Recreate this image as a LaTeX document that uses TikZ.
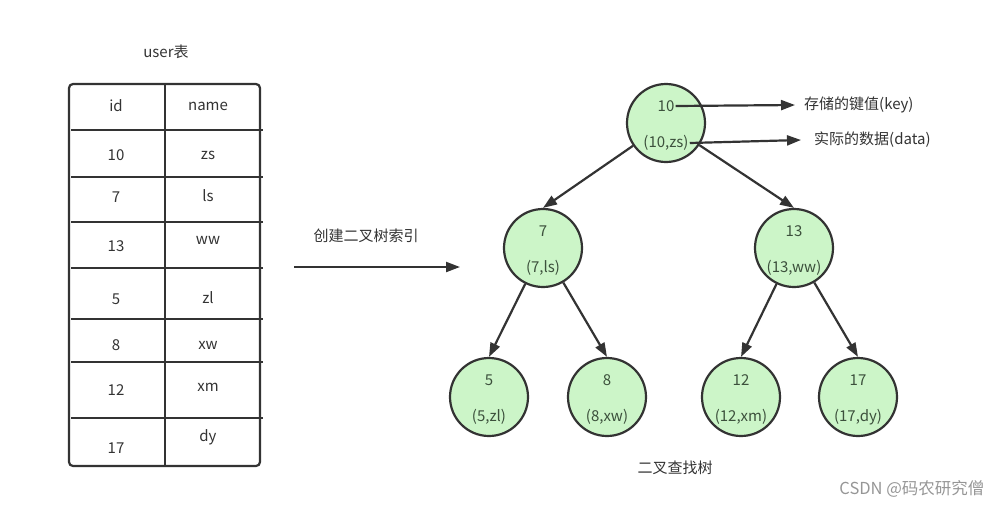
\documentclass[tikz,border=0pt]{standalone}
\usepackage{fontspec}
\setmainfont{Noto Sans CJK SC}
\usetikzlibrary{arrows.meta}
\usetikzlibrary{positioning}

\definecolor{leaf}{RGB}{204,245,200}
\definecolor{ink}{RGB}{51,51,51}
\definecolor{nodeink}{RGB}{60,80,60}
\definecolor{mark}{RGB}{150,150,150}

\begin{document}
\begin{tikzpicture}[x=1pt,y=-1pt,>={Triangle[length=14pt,width=10pt]}]
		\tikzset{treenode/.style = {shape=circle, draw=ink, line width=2.2pt, fill=leaf, minimum size=78pt, inner sep=0pt},
			keytext/.style = {text=nodeink, font=\fontsize{15}{17}\selectfont, inner sep=1pt},
			cell/.style = {text=ink, font=\fontsize{15}{17}\selectfont, inner sep=1pt},
			note/.style = {text=ink, font=\fontsize{15}{17}\selectfont, inner sep=1pt},
			link/.style = {->, draw=ink, line width=2.2pt}}
		\useasboundingbox (0,0) rectangle (1001,507);
		
		% user table
		\node[note] (TITLE) at (166,52) {user表};
		\draw[ink, line width=2.2pt, rounded corners=4pt] (69,84) rectangle (260,466);
		\draw[ink, line width=2.2pt] (165,84) -- (165,466);
		\foreach \y in {130,177,222,268,319,362,418}
			\draw[ink, line width=2.2pt] (71,\y) -- (263,\y);
		\foreach \i/\id/\nm/\yid/\ynm in {0/id/name/106/106, 1/10/zs/155/155, 2/7/ls/197/196,
			3/13/ww/246/240, 4/5/zl/299/298, 5/8/xw/345/345, 6/12/xm/390/387, 7/17/dy/448/437}
		{
			\node[cell] (ID\i) at (116,\yid) {\id};
			\node[cell] (NM\i) at (208,\ynm) {\nm};
		}
		
		% build arrow
		\coordinate (FROM) at (294,267);
		\coordinate (TO) at (460,267);
		\draw[link] (FROM) -- (TO);
		\node[note] (BUILD) at (366,236) {创建二叉树索引};
		
		% search tree
		\foreach \k/\v/\x/\y in {10/zs/666/123, 7/ls/543/248, 13/ww/794/248,
			5/zl/489/397, 8/xw/607/397, 12/xm/741/397, 17/dy/858/397}
		{
			\node[treenode] (N\k) at (\x,\y) {};
			\node[keytext] (K\k) at (\x,\y-17) {\k};
			\node[keytext] (D\k) at (\x,\y+20) {(\k,\v)};
		}
		\draw[link] (N10) -- (N7.north);
		\draw[link] (N10) -- (N13.north);
		\draw[link] (N7) -- (N5.north);
		\draw[link] (N7) -- (N8.north);
		\draw[link] (N13) -- (N12.north);
		\draw[link] (N13) -- (N17.north);
		\node[note] (TREE) at (675,468) {二叉查找树};
		
		% notes on the root
		\node[note, anchor=west] (KEY) at (803,105) {存储的键值(key)};
		\node[note, anchor=west] (DATA) at (813,140) {实际的数据(data)};
		\draw[link] (K10.east) -- ([xshift=-8pt]KEY.west);
		\draw[link] (D10.east) -- ([xshift=-12pt]DATA.west);
		
		\node[text=mark, font=\fontsize{16.5}{18}\selectfont, anchor=east] (CSDN) at (988,489) {CSDN @码农研究僧};
\end{tikzpicture}
\end{document}
